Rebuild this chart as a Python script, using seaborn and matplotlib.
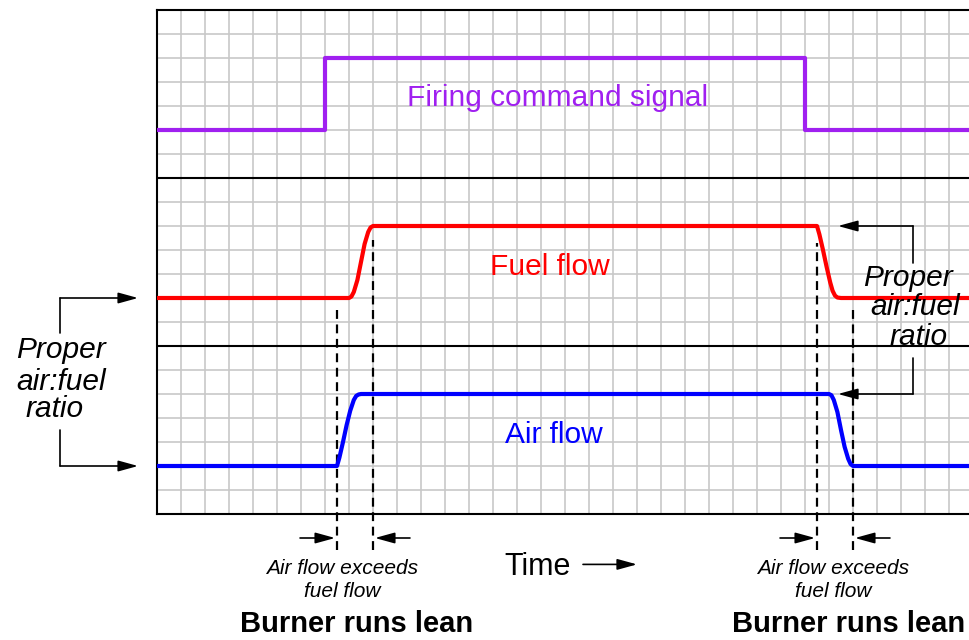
import numpy as np
import matplotlib.pyplot as plt
import seaborn as sns

# time in grid columns, level in grid rows (bottom of chart = 0)
cmd_t = [0, 7, 7, 27, 27, 34]
cmd_y = [16, 16, 19, 19, 16, 16]

fuel_t = [0, 8.0, 8.1, 8.2, 8.35, 8.5, 8.65, 8.8, 8.9, 9.0,
          27.5, 27.6, 27.75, 27.9, 28.05, 28.15, 28.25, 28.35, 28.5, 34]
fuel_y = [9, 9, 9.06, 9.25, 9.75, 10.5, 11.25, 11.75, 11.94, 12,
          12, 11.65, 11.0, 10.3, 9.65, 9.3, 9.1, 9.02, 9, 9]

air_t = [0, 7.5, 7.6, 7.75, 7.9, 8.05, 8.2, 8.3, 8.4, 8.5,
         28.0, 28.1, 28.2, 28.35, 28.5, 28.65, 28.8, 28.9, 29.0, 34]
air_y = [2, 2, 2.35, 3.0, 3.7, 4.3, 4.75, 4.92, 4.98, 5,
         5, 4.95, 4.75, 4.25, 3.5, 2.8, 2.3, 2.08, 2, 2]

# dashed markers: x, top, bottom
dash_x = [7.5, 9.0, 27.5, 29.0]
dash_top = [8.58, 11.4, 11.3, 8.6]
dash_bottom = [-1.5, -1.5, -1.5, -1.5]

sns.set_style("white")
plt.rcParams['font.family'] = ['Liberation Sans', 'DejaVu Sans']
plt.rcParams['text.color'] = 'black'

fig = plt.figure(figsize=(9.7, 6.4), dpi=100)
ax = fig.add_axes([157 / 970, 126 / 640, 813 / 970, 504 / 640])

# grid paper
ax.set_xticks(np.arange(0, 34, 1))
ax.set_yticks(np.arange(0, 22, 1))
ax.grid(True, color='#c8c8c8', lw=1.2)
ax.tick_params(left=False, bottom=False, labelleft=False, labelbottom=False)
ax.set_xlim(0, 813 / 24)
ax.set_ylim(0, 21)
for s in ['left', 'top', 'bottom']:
    ax.spines[s].set_color('black')
    ax.spines[s].set_linewidth(1.5)
ax.spines['right'].set_visible(False)
ax.axhline(7, color='black', lw=1.5, zorder=2)
ax.axhline(14, color='black', lw=1.5, zorder=2)

sns.lineplot(x=cmd_t, y=cmd_y, ax=ax, color='#a020f0', lw=3,
             sort=False, estimator=None, zorder=4)
sns.lineplot(x=fuel_t, y=fuel_y, ax=ax, color='#ff0000', lw=3,
             sort=False, estimator=None, zorder=4)
sns.lineplot(x=air_t, y=air_y, ax=ax, color='#0000ff', lw=3,
             sort=False, estimator=None, zorder=4)

ax.vlines(dash_x, dash_bottom, dash_top, colors='black', lw=1.6,
          linestyles=(0, (4, 2.5)), clip_on=False, zorder=3)

arrow = dict(arrowstyle='-|>,head_length=0.8,head_width=0.22', color='black',
             lw=1.2, mutation_scale=15, shrinkA=0, shrinkB=0)


def arr(x0, y0, x1, y1):
    ax.annotate('', xy=(x1, y1), xytext=(x0, y0), arrowprops=arrow,
                annotation_clip=False, zorder=5)


# gap arrows under the chart
arr(5.96, -1, 7.42, -1)
arr(10.54, -1, 9.08, -1)
arr(25.96, -1, 27.42, -1)
arr(30.54, -1, 29.08, -1)

# time arrow
arr(17.75, -2.1, 20.0, -2.1)

# left bracket
ax.plot([-4.04, -4.04], [9, 7.54], color='black', lw=1.2, clip_on=False)
ax.plot([-4.04, -4.04], [2, 3.5], color='black', lw=1.2, clip_on=False)
arr(-4.04, 9, -0.79, 9)
arr(-4.04, 2, -0.79, 2)

# right bracket
ax.plot([31.5, 31.5], [12, 10.46], color='black', lw=1.2, clip_on=False)
ax.plot([31.5, 31.5], [5, 6.5], color='black', lw=1.2, clip_on=False)
arr(31.5, 12, 28.375, 12)
arr(31.5, 5, 28.375, 5)

big = 21.5
ax.text(16.67, 17.0, 'Firing command signal', color='#a020f0', fontsize=big,
        ha='center', va='baseline', zorder=6)
ax.text(16.375, 9.96, 'Fuel flow', color='#ff0000', fontsize=big,
        ha='center', va='baseline', zorder=6)
ax.text(16.54, 2.96, 'Air flow', color='#0000ff', fontsize=big,
        ha='center', va='baseline', zorder=6)

ax.text(15.85, -2.54, 'Time', fontsize=22, ha='center', va='baseline')

for cx in [7.71, 28.17]:
    ax.text(cx, -2.5, 'Air flow exceeds', fontsize=15, style='italic',
            ha='center', va='baseline')
    ax.text(cx, -3.46, 'fuel flow', fontsize=15, style='italic',
            ha='center', va='baseline')
for cx in [8.33, 28.83]:
    ax.text(cx, -4.92, 'Burner runs lean', fontsize=21, weight='bold',
            ha='center', va='baseline')

ratio_lines = ['Proper', 'air:fuel', 'ratio']
for txt, cx, yb in zip(ratio_lines, [-4.0, -4.0, -4.25], [6.5, 5.17, 4.04]):
    ax.text(cx, yb, txt, fontsize=big, style='italic', ha='center',
            va='baseline')
for txt, cx, yb in zip(ratio_lines, [31.3, 31.6, 31.75], [9.5, 8.29, 7.04]):
    ax.text(cx, yb, txt, fontsize=big, style='italic', ha='center',
            va='baseline', zorder=6)

fig.savefig('out.png', dpi=100)
